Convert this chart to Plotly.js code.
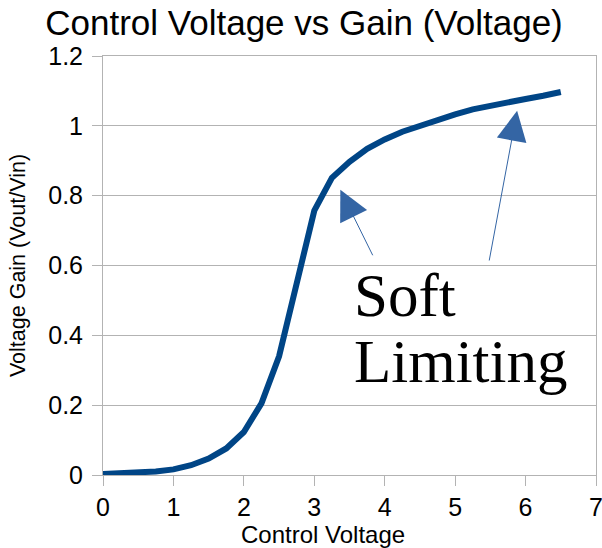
<!DOCTYPE html>
<html>
<head>
<meta charset="utf-8">
<script src="https://cdn.plot.ly/plotly-3.0.1.min.js"></script>
<style>html,body{margin:0;padding:0;background:#fff;}#chart{width:602px;height:548px;}</style>
</head>
<body>
<div id="chart"></div>
<script>
const controlVoltage = [0,0.25,0.5,0.75,1,1.25,1.5,1.75,2,2.25,2.5,2.75,3,3.25,3.5,3.75,4,4.25,4.5,4.75,5,5.25,5.5,5.75,6,6.25,6.5];
const voltageGain = [0.003,0.004,0.006,0.01,0.016,0.028,0.047,0.076,0.123,0.205,0.34,0.555,0.757,0.851,0.897,0.934,0.961,0.983,1.001,1.017,1.033,1.047,1.058,1.068,1.077,1.086,1.097];
const xTicks = [0,1,2,3,4,5,6,7];
const yTicks = [0,0.2,0.4,0.6,0.8,1,1.2];
const yTickLabels = ["0","0.2","0.4","0.6","0.8","1","1.2"];

const sans = "Liberation Sans, Arial, sans-serif";
const serif = "Liberation Serif, Times New Roman, serif";
const grid = "#b3b3b3";
const arrowColor = "#3465a4";

const trace = {
  x: controlVoltage, y: voltageGain, type: "scatter", mode: "lines",
  line: {color: "#004586", width: 6}, hoverinfo: "skip", showlegend: false
};

const layout = {
  width: 602, height: 548,
  margin: {l: 103, r: 6, t: 56, b: 73},
  paper_bgcolor: "#fff", plot_bgcolor: "#fff",
  title: {text: "Control Voltage vs Gain (Voltage)", font: {family: sans, size: 35, color: "#000"},
          x: 0.505, xanchor: "center", xref: "container", y: 0.98, yref: "container", yanchor: "top"},
  xaxis: {range: [0,7], tickvals: xTicks, ticks: "outside", ticklen: 10, tickcolor: grid, tickwidth: 1,
          showgrid: false, zeroline: false, showline: true, mirror: true, linecolor: grid, linewidth: 1,
          ticklabeloverflow: "allow",
          tickfont: {family: sans, size: 25, color: "#000"}, fixedrange: true},
  yaxis: {range: [0,1.2], tickvals: yTicks, ticktext: yTickLabels, ticks: "outside", ticklen: 10, tickcolor: grid, tickwidth: 1,
          showgrid: true, gridcolor: grid, gridwidth: 1, zeroline: false, showline: true, mirror: true, linecolor: grid, linewidth: 1,
          ticklabelstandoff: 4, ticklabeloverflow: "allow",
          tickfont: {family: sans, size: 25, color: "#000"},
          title: {text: "Voltage Gain (Vout/Vin)", font: {family: sans, size: 21.5, color: "#000"}, standoff: 16}, fixedrange: true},
  annotations: [
    {text: "Control Voltage", xref: "paper", yref: "paper", x: 0.447, y: 0, yshift: -44, xanchor: "center", yanchor: "top",
     showarrow: false, font: {family: sans, size: 24, color: "#000"}},
    {text: "Soft", xref: "x", yref: "y", x: 3.53, y: 0.515, xanchor: "left", yanchor: "middle", showarrow: false,
     font: {family: serif, size: 61, color: "#000"}},
    {text: "Limiting", xref: "x", yref: "y", x: 3.53, y: 0.325, xanchor: "left", yanchor: "middle", showarrow: false,
     font: {family: serif, size: 61, color: "#000"}},
    {text: "", xref: "x", yref: "y", axref: "x", ayref: "y", x: 3.37, y: 0.817, ax: 3.84, ay: 0.625,
     showarrow: true, arrowhead: 2, arrowsize: 6, arrowwidth: 1, arrowcolor: arrowColor, standoff: 0},
    {text: "", xref: "x", yref: "y", axref: "x", ayref: "y", x: 5.88, y: 1.043, ax: 5.48, ay: 0.61,
     showarrow: true, arrowhead: 2, arrowsize: 6, arrowwidth: 1, arrowcolor: arrowColor, standoff: 0}
  ]
};

Plotly.newPlot("chart", [trace], layout, {displayModeBar: false, staticPlot: true});
</script>
</body>
</html>
